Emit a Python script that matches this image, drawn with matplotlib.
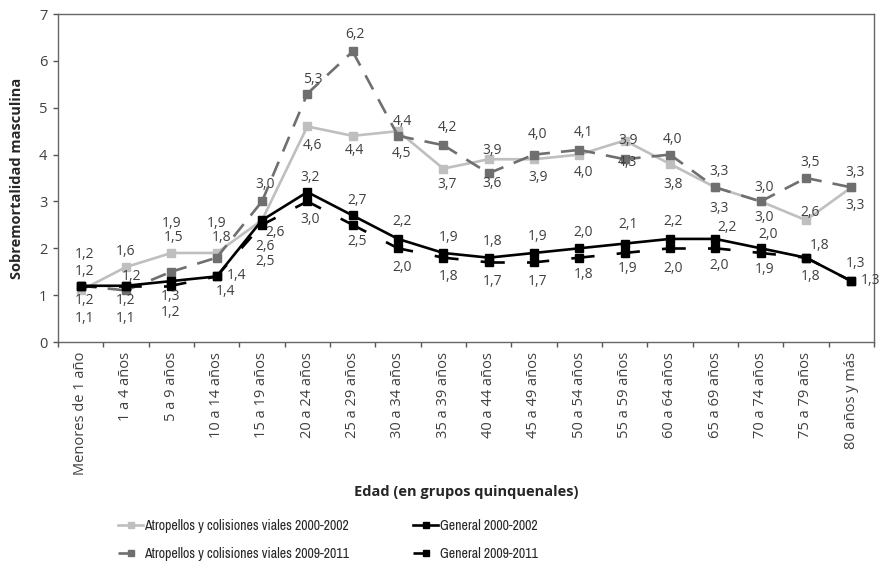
import matplotlib.pyplot as plt
import numpy as np
from matplotlib.lines import Line2D
from matplotlib import font_manager

plt.rcParams['font.family'] = ['Open Sans', 'DejaVu Sans']
plt.rcParams['lines.scale_dashes'] = False

grupos = ["Menores de 1 año", "1 a 4 años", "5 a 9 años", "10 a 14 años",
          "15 a 19 años", "20 a 24 años", "25 a 29 años", "30 a 34 años",
          "35 a 39 años", "40 a 44 años", "45 a 49 años", "50 a 54 años",
          "55 a 59 años", "60 a 64 años", "65 a 69 años", "70 a 74 años",
          "75 a 79 años", "80 años y más"]

atrop_0002 = [1.1, 1.6, 1.9, 1.9, 2.6, 4.6, 4.4, 4.5, 3.7, 3.9, 3.9, 4.0, 4.3, 3.8, 3.3, 3.0, 2.6, 3.3]
atrop_0911 = [1.2, 1.1, 1.5, 1.8, 3.0, 5.3, 6.2, 4.4, 4.2, 3.6, 4.0, 4.1, 3.9, 4.0, 3.3, 3.0, 3.5, 3.3]
general_0002 = [1.2, 1.2, 1.3, 1.4, 2.6, 3.2, 2.7, 2.2, 1.9, 1.8, 1.9, 2.0, 2.1, 2.2, 2.2, 2.0, 1.8, 1.3]
general_0911 = [1.2, 1.2, 1.2, 1.4, 2.5, 3.0, 2.5, 2.0, 1.8, 1.7, 1.7, 1.8, 1.9, 2.0, 2.0, 1.9, 1.8, 1.3]

nombres = ["Atropellos y colisiones viales 2000-2002",
           "Atropellos y colisiones viales 2009-2011",
           "General 2000-2002",
           "General 2009-2011"]

# label offsets in pixels (dx, dy downwards) from each point
off_a = [(4, 28), (0, -16), (0, -29), (0, -29), (3, 26), (5, 19), (2, 15), (4, 22), (4, 16),
         (3, -9), (4, 18), (4, 18), (3, 22), (3, 21), (4, 21), (3, 16), (4, -8), (4, 18)]
off_b = [(4, -31), (0, 28), (2, -34), (5, -20), (3, -17), (5, -14), (2, -17), (4, -14), (4, -18),
         (3, 10), (4, -20), (4, -17), (3, -19), (3, -15), (4, -16), (3, -14), (4, -15), (4, -15)]
off_c = [(4, -14), (6, -9), (-1, 15), (20, -1), (13, 12), (3, -15), (4, -15), (4, -17), (5, -15),
         (4, -16), (4, -16), (4, -16), (3, -19), (3, -17), (12, -11), (7, -14), (14, -12), (4, -18)]
off_d = [(4, 15), (0, 15), (-1, 27), (9, 15), (3, 37), (3, 18), (4, 17), (4, 19), (5, 19),
         (4, 19), (4, 19), (4, 17), (3, 16), (3, 20), (4, 17), (4, 17), (5, 19), (19, -1)]

# narrow face for the legend when it is installed
narrow = [f.name for f in font_manager.fontManager.ttflist
          if "Narrow" in f.name or "Condensed" in f.name]
leg_font = "Liberation Sans Narrow" if "Liberation Sans Narrow" in narrow else (
    narrow[0] if narrow else "Open Sans")
leg_size = 10 if leg_font != "Open Sans" else 8.3

fig = plt.figure(figsize=(8.83, 5.71), dpi=100)
ax = fig.add_axes([58 / 883, 1 - 342 / 571, 816 / 883, 328 / 571])
x = np.arange(len(grupos))

series = [
    (atrop_0002, "#bfbfbf", None, off_a),
    (atrop_0911, "#6f6f6f", (11.5, 8), off_b),
    (general_0002, "#000000", None, off_c),
    (general_0911, "#000000", (11, 16), off_d),
]

handles = []
for (vals, col, dash, offs), nombre in zip(series, nombres):
    if dash is None:
        ax.plot(x, vals, color=col, lw=1.9, marker="s", ms=5.5,
                solid_joinstyle="miter")
        h = Line2D([], [], color=col, lw=1.9, marker="s", ms=5)
    else:
        # each segment restarts its dash pattern
        for i in range(len(x) - 1):
            ax.plot(x[i:i + 2], vals[i:i + 2], color=col, lw=1.9,
                    dashes=dash, dash_capstyle="butt")
        ax.plot(x, vals, ls="none", color=col, marker="s", ms=5.5)
        h = Line2D([], [], color=col, lw=1.9, dashes=dash, marker="s", ms=5)
    handles.append(h)
    for xi, v, (dx, dy) in zip(x, vals, offs):
        ax.annotate(f"{v:.1f}".replace(".", ","), (xi, v), xytext=(dx, -dy),
                    textcoords="offset pixels", ha="center", va="center",
                    fontsize=10, color="#404040")

ax.set_xlim(-0.5, len(grupos) - 0.5)
ax.set_ylim(0, 7)
ax.set_yticks(range(8))
ax.set_xticks(np.arange(-0.5, len(grupos)), labels=[])
ax.set_xticks(x, labels=grupos, minor=True, rotation=90)
ax.tick_params(axis="x", which="major", length=3.6, width=1, color="#555555")
ax.tick_params(axis="x", which="minor", length=0, pad=7, labelsize=10.5,
               labelcolor="#404040")
ax.tick_params(axis="y", length=3.6, width=1, color="#555555", pad=4,
               labelsize=10.5, labelcolor="#404040")
for s in ax.spines.values():
    s.set_color("#666666")
    s.set_linewidth(1)

fig.text(466 / 883, 1 - 492 / 571, "Edad (en grupos quinquenales)",
         ha="center", va="center", fontsize=10.5, fontweight="bold", color="#262626")
fig.text(17 / 883, 1 - 178 / 571, "Sobremortalidad masculina", rotation=90,
         ha="center", va="center", fontsize=10.5, fontweight="bold", color="#262626")

fig.legend(handles, nombres, ncol=2, loc="center left", frameon=False,
           bbox_to_anchor=(118 / 883, 1 - 540 / 571), borderpad=0, borderaxespad=0,
           prop={"family": [leg_font, "DejaVu Sans"], "size": leg_size},
           handlelength=1.8, handletextpad=0.1, columnspacing=4.6,
           labelspacing=1.0, labelcolor="#262626")

fig.savefig("out.png", dpi=100)
